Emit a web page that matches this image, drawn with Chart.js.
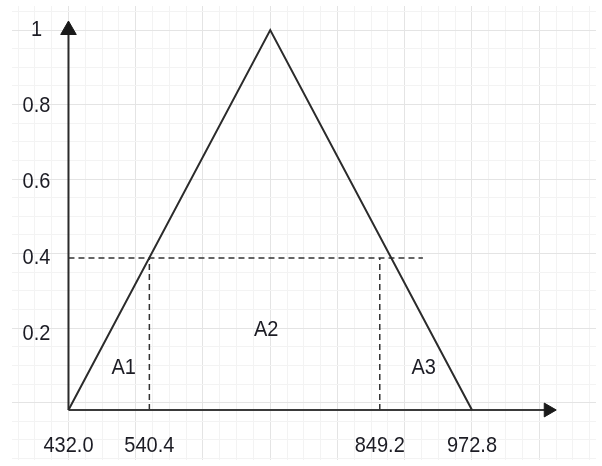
<!DOCTYPE html>
<html>
<head>
<meta charset="utf-8">
<script src="https://cdn.jsdelivr.net/npm/chart.js@4.4.0/dist/chart.umd.min.js"></script>
<style>
  html, body { margin: 0; padding: 0; background: #fff; }
  canvas { display: block; }
</style>
</head>
<body>
<canvas id="c" width="602" height="466"></canvas>
<script>
// valeurs
const triX = [432.0, 702.4, 972.8];
const triY = [0, 1, 0];
const cutLevel = 0.4;
const cutX = [540.4, 849.2];
const cutLineEnd = 907;
const xTicks = [432.0, 540.4, 849.2, 972.8];
const xTickLabels = ['432.0', '540.4', '849.2', '972.8'];
const yTicks = [0.2, 0.4, 0.6, 0.8, 1];
const yTickLabels = ['0.2', '0.4', '0.6', '0.8', '1'];
const areaLabels = ['A1', 'A2', 'A3'];
const areaX = [506, 697, 908];
const areaY = [0.11, 0.21, 0.11];

// axes fléchés
const xAxisEnd = 1075;
const yAxisEnd = 1.0;

// grille de fond (style draw.io)
const gridMajorX = (972.8 - 432.0) / 6;
const gridMinorX = gridMajorX / 4;
const majorColor = '#e4e4e4';
const minorColor = '#f3f3f3';
const textColor = '#1c1c24';
const font = '20px "Liberation Sans", Arial, sans-serif';

function gridTicks(start, step, lo, hi) {
    const ticks = [];
    const k0 = Math.ceil((lo - start) / step);
    const k1 = Math.floor((hi - start) / step);
    for (let k = k0; k <= k1; k++) {
        ticks.push({ value: start + k * step, major: k % 4 === 0 });
    }
    return ticks;
}

const gridOpts = {
    drawTicks: false,
    lineWidth: 1,
    color: c => (c.tick && c.tick.major ? majorColor : minorColor)
};

const labelPlugin = {
    id: 'labels',
    afterDatasetsDraw(chart) {
        const { ctx, scales: { x, y } } = chart;
        const axisY = y.getPixelForValue(0);
        const axisX = x.getPixelForValue(triX[0]);
        const put = (t, px, py) => {
            ctx.save();
            ctx.translate(px, py);
            ctx.scale(1, 1.13);
            ctx.fillText(t, 0, 0);
            ctx.restore();
        };
        ctx.save();
        ctx.fillStyle = textColor;
        ctx.font = font;
        ctx.textAlign = 'center';
        ctx.textBaseline = 'middle';
        xTicks.forEach((v, i) => put(xTickLabels[i], x.getPixelForValue(v), axisY + 36));
        yTicks.forEach((v, i) => put(yTickLabels[i], axisX - 32, y.getPixelForValue(v)));
        areaLabels.forEach((t, i) => put(t, x.getPixelForValue(areaX[i]), y.getPixelForValue(areaY[i])));
        ctx.restore();
    }
};

const dashed = {
    showLine: true, borderColor: '#333', borderWidth: 1.5, borderDash: [6, 4],
    pointRadius: 0, fill: false
};

new Chart(document.getElementById('c'), {
    type: 'scatter',
    data: {
        datasets: [
            {
                data: triX.map((v, i) => ({ x: v, y: triY[i] })),
                showLine: true, borderColor: '#2b2b2b', borderWidth: 2, pointRadius: 0, fill: false
            },
            Object.assign({ data: [{ x: triX[0], y: cutLevel }, { x: cutLineEnd, y: cutLevel }] }, dashed),
            Object.assign({ data: [{ x: cutX[0], y: 0 }, { x: cutX[0], y: cutLevel }] }, dashed),
            Object.assign({ data: [{ x: cutX[1], y: 0 }, { x: cutX[1], y: cutLevel }] }, dashed),
            {
                data: [{ x: triX[0], y: 0 }, { x: xAxisEnd, y: 0 }],
                showLine: true, borderColor: '#3a3a3a', borderWidth: 2,
                pointRadius: [0, 8], pointStyle: 'triangle', rotation: 90,
                pointBackgroundColor: '#1a1a1a', pointBorderColor: '#1a1a1a', pointBorderWidth: 1
            },
            {
                data: [{ x: triX[0], y: 0 }, { x: triX[0], y: yAxisEnd }],
                showLine: true, borderColor: '#2a2a2a', borderWidth: 2,
                pointRadius: [0, 9], pointStyle: 'triangle', rotation: 0,
                pointBackgroundColor: '#1a1a1a', pointBorderColor: '#1a1a1a', pointBorderWidth: 1
            }
        ]
    },
    options: {
        responsive: false,
        animation: false,
        events: [],
        layout: { autoPadding: false, padding: { left: 12, top: 6, right: 6, bottom: 6 } },
        plugins: { legend: { display: false }, tooltip: { enabled: false } },
        scales: {
            x: {
                type: 'linear', min: 356.3, max: 1139,
                ticks: { display: false },
                border: { display: false },
                grid: gridOpts,
                afterBuildTicks: s => { s.ticks = gridTicks(432.0, gridMinorX, s.min, s.max); }
            },
            y: {
                type: 'linear', min: -0.1316, max: 1.0632,
                display: false
            },
            gy: {
                type: 'linear', axis: 'y', position: 'left', min: -0.1537, max: 1.0644,
                ticks: { display: false },
                border: { display: false },
                grid: gridOpts,
                afterBuildTicks: s => { s.ticks = gridTicks(0, 0.05, s.min, s.max); }
            }
        }
    },
    plugins: [labelPlugin]
});
</script>
</body>
</html>
